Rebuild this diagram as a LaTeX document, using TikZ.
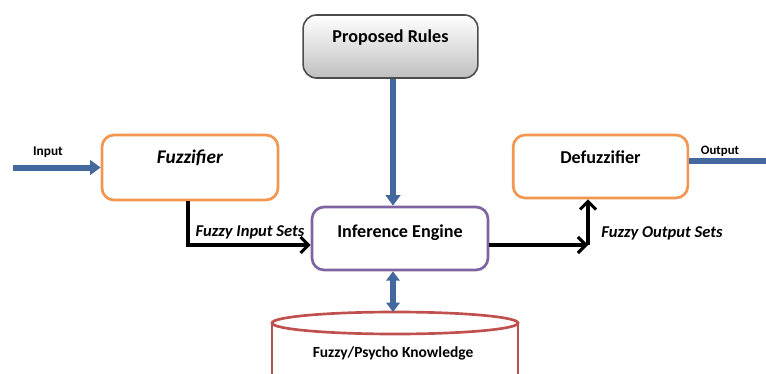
\documentclass[tikz,border=0pt]{standalone}
\usepackage{fontspec}
\setmainfont{Carlito}
\usetikzlibrary{arrows.meta,calc}
\definecolor{fblue}{RGB}{66,104,158}
\definecolor{forange}{RGB}{242,150,80}
\definecolor{fpurple}{RGB}{128,100,162}
\definecolor{fred}{RGB}{192,80,77}
\tikzset{
  box/.style={draw, rounded corners=9pt, line width=2pt, fill=white,
    minimum width=#1, font=\fontsize{13.6}{15}\selectfont\bfseries, text height=10pt},
  bluearrow/.style={draw=fblue, line width=4.5pt, -{Triangle[length=8pt,width=11pt]}},
  blueline/.style={draw=fblue, line width=4.5pt},
  bluedouble/.style={draw=fblue, line width=4.5pt, {Triangle[length=7pt,width=10pt]}-{Triangle[length=7pt,width=10pt]}},
  blackarrow/.style={draw=black, line width=2.3pt, -{Straight Barb[length=6pt,width=12pt]}},
  blackline/.style={draw=black, line width=2.3pt},
  smalllabel/.style={font=\fontsize{10}{12}\selectfont\bfseries},
  setlabel/.style={font=\fontsize{12.4}{14}\selectfont\bfseries\itshape},
}
\begin{document}
\begin{tikzpicture}[x=0.75pt,y=-0.75pt]
\useasboundingbox (0,0) rectangle (766,374);
% boxes
\node[box=132pt, draw=forange, minimum height=48.75pt, text depth=16.2pt, font=\fontsize{14.5}{16}\selectfont\bfseries\itshape] (fuzz) at (190,167.5) {Fuzzifier};
\node[box=131pt, draw=forange, minimum height=47.25pt, text depth=15pt] (defuzz) at (600.5,166.5) {Defuzzifier};
\node[box=131pt, draw=black!70, rounded corners=10pt, line width=1.2pt, top color=white, bottom color=black!25, minimum height=47.25pt, text depth=16.2pt] (rules) at (390.5,46.5) {Proposed Rules};
\node[box=132pt, draw=fpurple, minimum height=47.25pt, text depth=12pt] (inf) at (400,238.5) {Inference Engine};
% knowledge base cylinder
\draw[fred, line width=2pt] (395,323) ellipse [x radius=123, y radius=11];
\draw[fred, line width=2pt] (272,323) -- (272,380);
\draw[fred, line width=2pt] (518,323) -- (518,380);
\node[font=\fontsize{11.6}{13}\selectfont\bfseries] (kb) at (393,353) {Fuzzy/Psycho Knowledge};
\coordinate (kbtop) at (393,312);
% input / output
\coordinate (in) at (13,167.5);
\draw[bluearrow] (in) -- (fuzz.west);
\node[smalllabel] (inlab) at (48,152) {Input};
\coordinate (out) at (770,161);
\draw[blueline] (defuzz.east |- out) -- (out);
\node[smalllabel, font=\fontsize{9.6}{12}\selectfont\bfseries] (outlab) at (720,151) {Output};
% rules to inference
\coordinate (rs) at (393,78);
\draw[bluearrow] (rules.south -| rs) -- (inf.north -| rs);
% inference <-> knowledge
\draw[bluedouble] (inf.south -| kbtop) -- (kbtop);
% fuzzy input sets
\coordinate (fi) at (188,245);
\draw[blackline] (fuzz.south -| fi) -- (fi);
\draw[blackarrow] ([xshift=-1.15pt]fi) -- (inf.west |- fi);
\node[setlabel] (filab) at (250,232) {Fuzzy Input Sets};
% fuzzy output sets
\coordinate (fo) at (588,245);
\draw[blackarrow] (inf.east |- fo) -- (fo);
\draw[blackarrow] (fo) -- (defuzz.south -| fo);
\node[setlabel] (folab) at (662,233) {Fuzzy Output Sets};
\end{tikzpicture}
\end{document}
